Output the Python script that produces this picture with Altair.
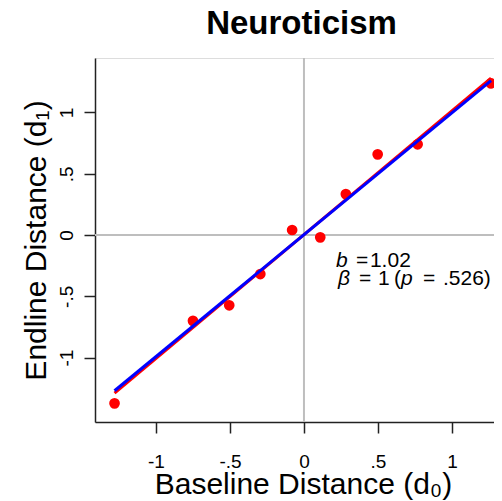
import altair as alt
import pandas as pd

# ---- data ----
baseline_d0 = [-1.28, -0.75, -0.505, -0.295, -0.08, 0.11, 0.283, 0.498, 0.768, 1.264]
endline_d1 = [-1.373, -0.70, -0.573, -0.318, 0.041, -0.019, 0.334, 0.658, 0.740, 1.237]
fit_x = [-1.28, 1.264]
fit_red_y = [-1.29, 1.28]      # fitted line (red)
ref_blue_y = [-1.27, 1.26]     # beta = 1 line (blue)
x_ticks = [-1, -0.5, 0, 0.5, 1]
y_ticks = [-1, -0.5, 0, 0.5, 1]
x_domain = [-1.412, 1.284]
y_domain = [-1.525, 1.444]
zero_x = [0]
zero_y = [0]

title_text = "Neuroticism"
x_title = "Baseline Distance (d\u2080)"
y_title = "Endline Distance (d\u2081)"

annot_x = 0.216
annot_y1 = -0.261
annot_y2 = -0.408
# (text, italic, offset in px from annotation anchor)
annot_line1 = [("b", True, 0), ("=", False, 20), ("1.02", False, 34)]
annot_line2 = [("\u03b2", True, 2), ("=", False, 23), ("1", False, 42), ("(", False, 58),
               ("p", True, 65), ("=", False, 87), (".526)", False, 107)]

FONT = "Liberation Sans"

pts = pd.DataFrame({"x": baseline_d0, "y": endline_d1})
red = pd.DataFrame({"x": fit_x, "y": fit_red_y})
blue = pd.DataFrame({"x": fit_x, "y": ref_blue_y})
vz = pd.DataFrame({"x": zero_x})
hz = pd.DataFrame({"y": zero_y})

label_expr = "datum.value == 0 ? '0' : replace(toString(datum.value), '0.', '.')"

xscale = alt.Scale(domain=x_domain, nice=False, zero=False)
yscale = alt.Scale(domain=y_domain, nice=False, zero=False)

x_axis = alt.Axis(
    values=x_ticks, labelExpr=label_expr, grid=False,
    tickSize=11, tickWidth=1.5, tickColor="#222", domainColor="#222", domainWidth=1.5,
    labelFont=FONT, labelFontSize=19, labelColor="black", labelBaseline="alphabetic",
    labelPadding=34, labelFlush=False,
    title=x_title, titleFont=FONT, titleFontSize=30, titleFontWeight="normal",
    titleColor="black", titleBaseline="alphabetic", titleAlign="center",
    titleX=208, titleY=71,
)
y_axis = alt.Axis(
    values=y_ticks, labelExpr=label_expr, grid=False,
    tickSize=11, tickWidth=1.5, tickColor="#222", domainColor="#222", domainWidth=1.5,
    labelFont=FONT, labelFontSize=19, labelColor="black", labelAngle=270,
    labelAlign="center", labelBaseline="alphabetic", labelPadding=12, labelFlush=False,
    title=y_title, titleFont=FONT, titleFontSize=30, titleFontWeight="normal",
    titleColor="black", titleAngle=270, titleBaseline="alphabetic", titleAlign="center",
    titleX=-50, titleY=182,
)

X = alt.X("x:Q", scale=xscale, axis=x_axis)
Y = alt.Y("y:Q", scale=yscale, axis=y_axis)

vrule = alt.Chart(vz).mark_rule(color="#BEBEBE", strokeWidth=2).encode(x=alt.X("x:Q", scale=xscale, axis=x_axis))
hrule = alt.Chart(hz).mark_rule(color="#BEBEBE", strokeWidth=2).encode(y=alt.Y("y:Q", scale=yscale, axis=y_axis))

points = alt.Chart(pts).mark_circle(color="#FF0000", opacity=1, size=115, clip=False).encode(x=X, y=Y)
red_line = alt.Chart(red).mark_line(color="#FF0000", strokeWidth=3).encode(x=X, y=Y)
blue_line = alt.Chart(blue).mark_line(color="#0000FF", strokeWidth=3).encode(x=X, y=Y)

texts = []
for line_y, segs in [(annot_y1, annot_line1), (annot_y2, annot_line2)]:
    for txt, italic, off in segs:
        df = pd.DataFrame({"x": [annot_x], "y": [line_y], "t": [txt]})
        kw = dict(font=FONT, fontSize=21, color="black", align="left",
                  baseline="alphabetic", dx=off)
        if italic:
            kw["fontStyle"] = "italic"
        texts.append(alt.Chart(df).mark_text(**kw).encode(x=X, y=Y, text="t:N"))

chart = alt.layer(vrule, hrule, points, red_line, blue_line, *texts).properties(
    width=399, height=364,
    title=alt.TitleParams(title_text, font=FONT, fontSize=33, fontWeight="bold",
                          color="black", anchor="middle", frame="group",
                          baseline="alphabetic", offset=0, dy=10, dx=7),
    autosize=alt.AutoSizeParams(type="none"),
    padding={"left": 87, "top": 50, "right": 0, "bottom": 85},
).configure_view(stroke=None).configure(background="white")

chart.save("out.html", embed_options={"renderer": "svg", "actions": False})
